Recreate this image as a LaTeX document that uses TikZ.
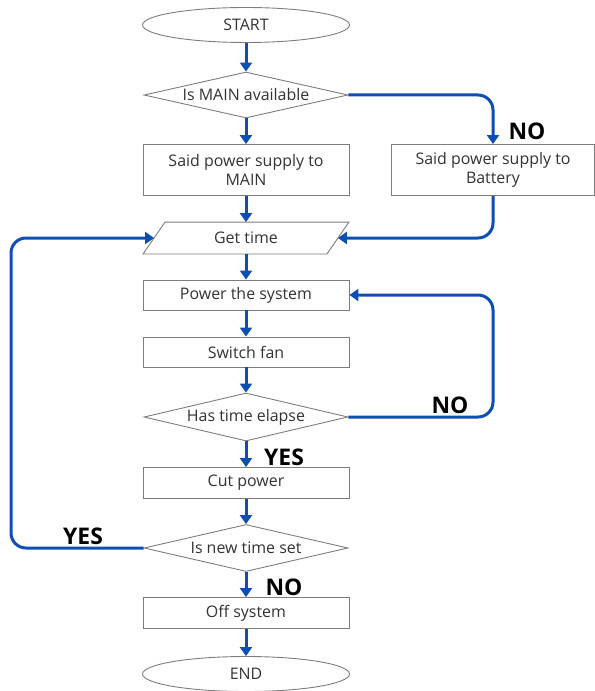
\documentclass[tikz,border=0pt]{standalone}
\usepackage{fontspec}
\setmainfont{Open Sans}
\usetikzlibrary{shapes.geometric,arrows.meta}
\definecolor{flowblue}{RGB}{12,78,178}
\definecolor{boxline}{RGB}{125,125,125}
\definecolor{txt}{RGB}{50,50,50}
\begin{document}
\begin{tikzpicture}[x=1bp,y=-1bp,
  base/.style={draw=boxline,line width=0.9bp,text=txt,font=\fontsize{16}{19.5}\selectfont,align=center,inner sep=0pt},
  procbox/.style={base,rectangle,minimum width=206bp,minimum height=30bp},
  termbox/.style={base,ellipse,minimum width=207bp,minimum height=35bp},
  decbox/.style={base,diamond,aspect=4.5,minimum width=204bp,minimum height=46bp},
  iobox/.style={base,draw=none,rectangle,minimum width=183bp,minimum height=31bp},
  arr/.style={draw=flowblue,line width=3bp,-{Triangle[width=12bp,length=9bp]},rounded corners=15bp},
  lbl/.style={font=\fontsize{23}{23}\selectfont\bfseries,text=black,inner sep=0pt}
]
\useasboundingbox (0,0) rectangle (595,691);

\node[termbox] (start) at (246,25) {START};
\node[decbox] (d1) at (246,95) {Is MAIN available};
\node[procbox,minimum height=51bp] (b1) at (246,170) {Said power supply to\\MAIN};
\node[procbox,minimum width=203bp,minimum height=51bp] (b2) at (493,170) {Said power supply to\\Battery};
\node[iobox] (gt) at (246,238) {Get time};
\draw[boxline,line width=0.9bp] ([xshift=-11bp]gt.south west) -- ([xshift=11bp]gt.north west)
  -- ([xshift=11bp]gt.north east) -- ([xshift=-11bp]gt.south east) -- cycle;
\node[procbox] (p1) at (246,295) {Power the system};
\node[procbox] (p2) at (246,352) {Switch fan};
\node[decbox,minimum height=48bp] (d2) at (246,417) {Has time elapse};
\node[procbox,minimum height=31bp] (p3) at (246,483) {Cut power};
\node[decbox,minimum height=47bp] (d3) at (246,548) {Is new time set};
\node[procbox,minimum height=31bp] (p4) at (246,613) {Off system};
\node[termbox] (stop) at (246,674) {END};

\coordinate (lx) at (11,0);

\draw[arr] (start) -- (d1);
\draw[arr] (d1) -- (b1);
\draw[arr] (d1.east) -| (b2.north);
\draw[arr] (b1) -- (gt);
\draw[arr] (b2.south) |- (gt.east);
\draw[arr] (gt) -- (p1);
\draw[arr] (p1) -- (p2);
\draw[arr] (p2) -- (d2);
\draw[arr] (d2.east) -- (d2.east -| b2) -- (p1.east -| b2) -- (p1.east);
\draw[arr] (d2) -- (p3);
\draw[arr] (p3) -- (d3);
\draw[arr] (d3.west) -- (d3.west -| lx) -- (gt.west -| lx) -- (gt.west);
\draw[arr] (d3) -- (p4);
\draw[arr] (p4) -- (stop);

\node[lbl] (l1) at (527,131) {NO};
\node[lbl] (l2) at (450,405) {NO};
\node[lbl] (l3) at (284,457) {YES};
\node[lbl] (l4) at (83,536) {YES};
\node[lbl] (l5) at (284,587) {NO};
\end{tikzpicture}
\end{document}
